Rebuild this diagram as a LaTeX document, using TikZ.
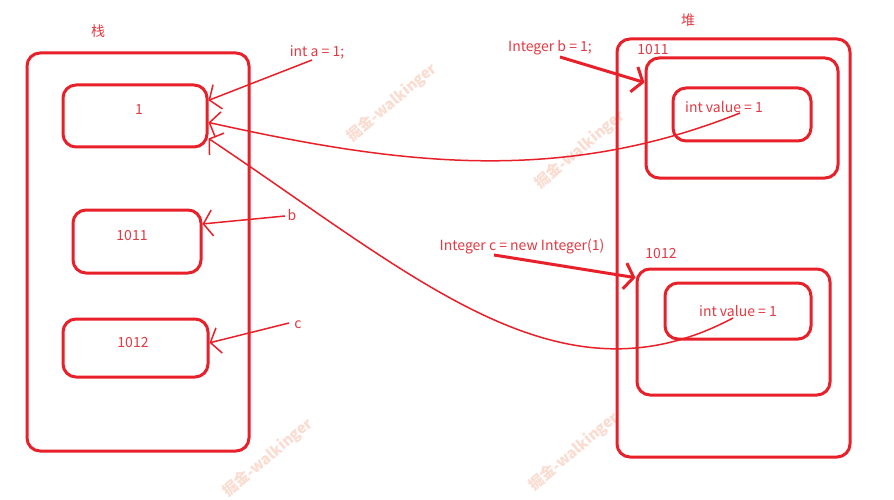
\documentclass[tikz,border=0pt]{standalone}
\usepackage{fontspec}
\setmainfont{Noto Sans CJK SC}
\usetikzlibrary{arrows.meta}
\definecolor{ink}{RGB}{232,32,42}
\definecolor{txt}{RGB}{226,58,68}
\definecolor{wm}{RGB}{250,220,208}
\begin{document}
\begin{tikzpicture}[x=1pt,y=-1pt,
  box/.style={draw=ink, line width=3pt, rounded corners=13pt, inner sep=0pt},
  lbl/.style={text=txt, font=\fontsize{14}{16}\selectfont, inner sep=0pt},
  thinline/.style={draw=ink, line width=1.5pt},
  thickline/.style={draw=ink, line width=3pt},
  barb/.style={-{Straight Barb[length=9pt,width=26pt]}},
  wmark/.style={text=wm, rotate=40, font=\fontsize{15}{16}\selectfont\bfseries, inner sep=0pt}]
\useasboundingbox[fill=white] (0,0) rectangle (894,500);
% watermarks
\node[wmark] (w1) at (392,103) {掘金-walkinger};
\node[wmark] (w2) at (580,150) {掘金-walkinger};
\node[wmark] (w3) at (268,458) {掘金-walkinger};
\node[wmark] (w4) at (574,452) {掘金-walkinger};
% stack
\node[box, minimum width=222pt, minimum height=398pt] (stack) at (138,252) {};
\node[lbl] (stacklbl) at (98,31) {栈};
\node[box, minimum width=144pt, minimum height=62pt] (s1) at (135,116) {};
\node[lbl] (s1t) at (139,110) {1};
\node[box, minimum width=128pt, minimum height=63pt] (s2) at (137,241.5) {};
\node[lbl] (s2t) at (132,236) {1011};
\node[box, minimum width=145pt, minimum height=58pt] (s3) at (135.5,348) {};
\node[lbl] (s3t) at (133,343) {1012};
% heap
\node[box, minimum width=233pt, minimum height=418pt] (heap) at (733.5,248) {};
\node[lbl] (heaplbl) at (688,20) {堆};
\node[box, minimum width=192pt, minimum height=120pt] (h1) at (742,118) {};
\node[lbl] (h1lbl) at (653,50) {1011};
\node[box, minimum width=138pt, minimum height=53pt] (v1) at (742,114.5) {};
\node[lbl] (v1t) at (724,107) {int value = 1};
\node[box, minimum width=193pt, minimum height=126pt] (h2) at (733.5,332) {};
\node[lbl] (h2lbl) at (661,254) {1012};
\node[box, minimum width=146pt, minimum height=56pt] (v2) at (738,311) {};
\node[lbl] (v2t) at (738,311) {int value = 1};
% code labels
\node[lbl] (la) at (317,52) {int a = 1;};
\node[lbl] (lb) at (550,48) {Integer b = 1;};
\node[lbl] (lbb) at (292,215) {b};
\node[lbl] (lcc) at (298,325) {c};
\node[lbl] (lc) at (522,247) {Integer c = new Integer(1)};
% connector free ends
\coordinate (pa) at (312,60);
\coordinate (pb) at (560,57);
\coordinate (pbb) at (285,216);
\coordinate (pcc) at (289,323);
\coordinate (pc) at (494,255);
\coordinate (q1) at (740,113);
\coordinate (q2) at (733,318);
% connectors
\draw[thinline, barb] (pa) -- (s1.12);
\draw[thinline, barb] (pbb) -- (s2.15);
\draw[thinline, barb] (pcc) -- (s3.4);
\draw[thickline, barb] (pb) -- (h1.160);
\draw[thickline, barb] (pc) -- (h2.151);
\draw[thinline, barb] (q1) .. controls (560,185) and (400,165) .. (s1.-5);
\draw[thinline, barb] (q2) .. controls (560,410) and (420,280) .. (s1.-17);
\end{tikzpicture}
\end{document}
